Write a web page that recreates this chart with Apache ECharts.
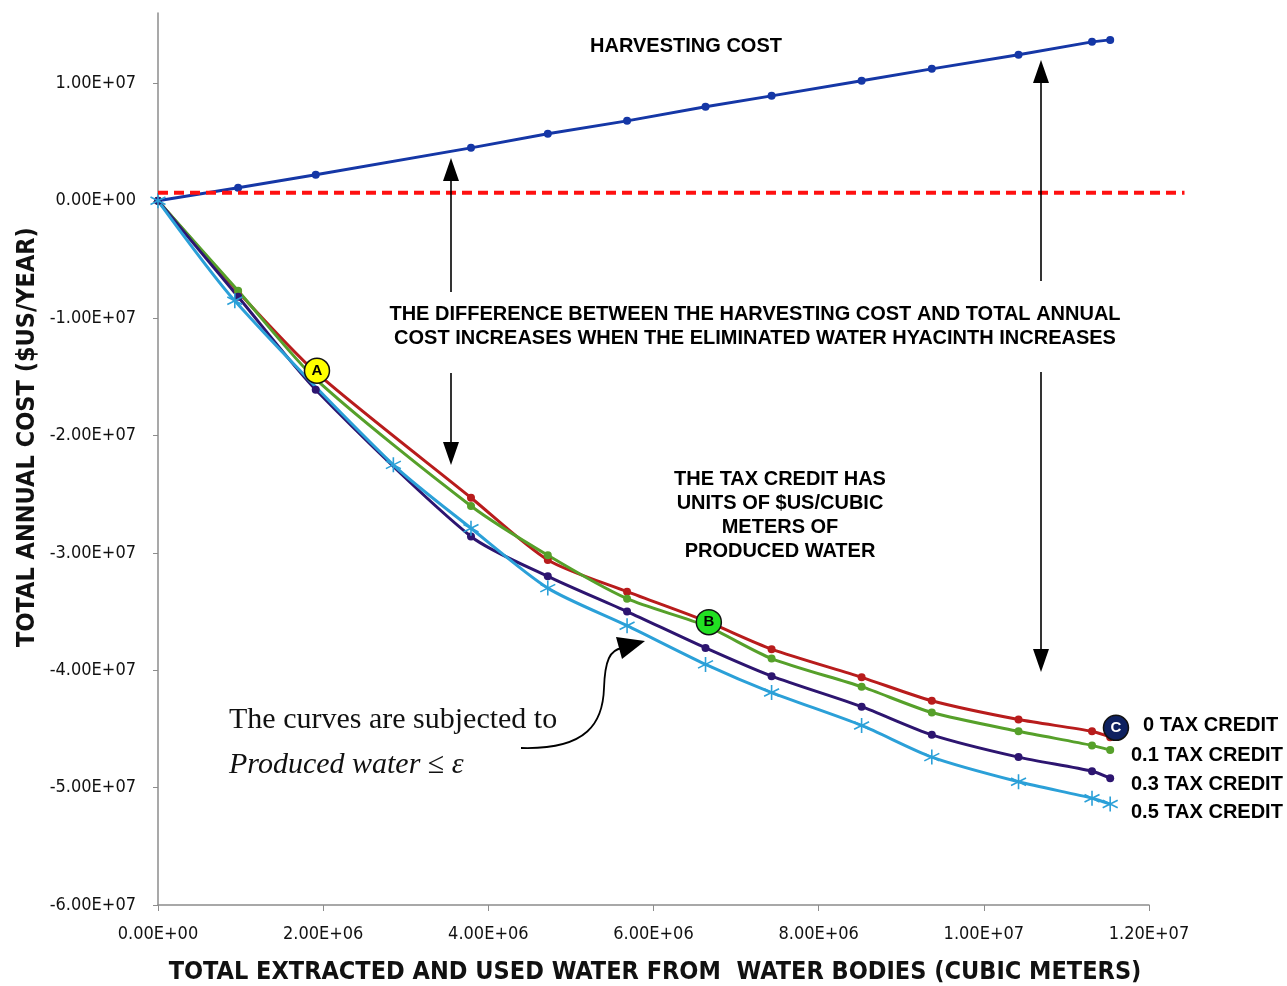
<!DOCTYPE html>
<html>
<head>
<meta charset="utf-8">
<script src="https://cdn.jsdelivr.net/npm/echarts@6/dist/echarts.min.js"></script>
<style>
  html, body { margin: 0; padding: 0; background: #ffffff; }
  #chart { width: 1287px; height: 986px; }
</style>
</head>
<body>
<div id="chart"></div>
<script>
// Extracted water (cubic metres) at each computed point
const waterX = [0, 0.97e6, 1.91e6, 3.79e6, 4.72e6, 5.68e6, 6.63e6, 7.43e6, 8.52e6, 9.37e6, 10.42e6, 11.31e6, 11.53e6];
// 0.5 tax credit run has its own sample points
const waterX05 = [0, 0.93e6, 2.85e6, 3.79e6, 4.72e6, 5.68e6, 6.63e6, 7.43e6, 8.52e6, 9.37e6, 10.42e6, 11.31e6, 11.53e6];

// Annual cost ($US/year)
const harvestingCost = [0, 1.11e6, 2.21e6, 4.51e6, 5.71e6, 6.81e6, 8.01e6, 8.94e6, 1.022e7, 1.124e7, 1.244e7, 1.354e7, 1.371e7];
const taxCredit0  = [0, -7.75e6, -1.46e7, -2.53e7, -3.06e7, -3.33e7, -3.58e7, -3.82e7, -4.06e7, -4.26e7, -4.42e7, -4.52e7, -4.57e7];
const taxCredit01 = [0, -7.67e6, -1.52e7, -2.60e7, -3.02e7, -3.39e7, -3.62e7, -3.90e7, -4.14e7, -4.36e7, -4.52e7, -4.64e7, -4.68e7];
const taxCredit03 = [0, -8.18e6, -1.61e7, -2.86e7, -3.20e7, -3.50e7, -3.81e7, -4.05e7, -4.31e7, -4.55e7, -4.74e7, -4.86e7, -4.92e7];
const taxCredit05 = [0, -8.52e6, -2.25e7, -2.79e7, -3.30e7, -3.62e7, -3.95e7, -4.19e7, -4.47e7, -4.74e7, -4.95e7, -5.09e7, -5.14e7];

// Zero-cost reference level (dashed), running past the last tick
const referenceX = [0, 12.43e6];
const referenceLevel = [6.8e5, 6.8e5];

// Highlighted solutions A, B, C
const pointNames = ['A', 'B', 'C'];
const pointX = [1.925e6, 6.67e6, 11.6e6];
const pointY = [-1.448e7, -3.59e7, -4.49e7];

// Axis ticks
const xTicks = [0, 2e6, 4e6, 6e6, 8e6, 10e6, 12e6];
const yTicks = [-6e7, -5e7, -4e7, -3e7, -2e7, -1e7, 0, 1e7];

const pair = (xs, ys) => xs.map((x, i) => [x, ys[i]]);

function sci(v) {
  if (v === 0) return '0.00E+00';
  const e = Math.floor(Math.log10(Math.abs(v)) + 1e-9);
  const m = v / Math.pow(10, e);
  return m.toFixed(2) + 'E' + (e >= 0 ? '+' : '-') + String(Math.abs(e)).padStart(2, '0');
}

const NARROW = "'Liberation Sans Narrow', 'DejaVu Sans Condensed', 'Liberation Sans', sans-serif";
const BOLD = "'Liberation Sans', Arial, sans-serif";
const SERIF = '"Liberation Serif", "Times New Roman", serif';

const chart = echarts.init(document.getElementById('chart'), null, { renderer: 'canvas' });

function curve(name, ys, xs, color, symbol, size) {
  return {
    name, type: 'line', data: pair(xs, ys), smooth: 0.25,
    symbol, symbolSize: size, showSymbol: true,
    lineStyle: { color, width: 3 },
    itemStyle: { color, borderColor: color, borderWidth: symbol.startsWith('path') ? 1.6 : 0 },
    z: 3
  };
}

const annotationText = (x, y, text) => ({
  type: 'text', x, y, z: 10,
  style: { text, font: 'bold 20px ' + BOLD, fill: '#000', align: 'center', verticalAlign: 'middle' }
});

const seriesName = (x, y, text) => ({
  type: 'text', x, y, z: 10,
  style: { text, font: 'bold 20px ' + BOLD, fill: '#000', verticalAlign: 'middle' }
});

function vArrow(x, y1, y2, up) {
  // shaft from y1 to y2; head at y2
  const dir = up ? 1 : -1;
  return [
    { type: 'line', z: 10, shape: { x1: x, y1: y1, x2: x, y2: y2 + dir * 20 }, style: { stroke: '#000', lineWidth: 1.6 } },
    { type: 'polygon', z: 10, shape: { points: [[x, y2], [x - 8, y2 + dir * 23], [x + 8, y2 + dir * 23]] }, style: { fill: '#000' } }
  ];
}

const option = {
  animation: false,
  backgroundColor: '#ffffff',
  grid: { left: 158, right: 138, top: 13, bottom: 81, containLabel: false },
  xAxis: {
    type: 'value', min: 0, max: 12e6, interval: 2e6,
    axisLine: { show: true, onZero: false, lineStyle: { color: '#8c8c8c', width: 1.5 } },
    axisTick: { show: true, length: 6, lineStyle: { color: '#8c8c8c' } },
    axisLabel: { formatter: sci, fontFamily: NARROW, fontSize: 18, color: '#111', margin: 20 },
    splitLine: { show: false }
  },
  yAxis: {
    type: 'value', min: -6e7, max: 1.6e7, interval: 1e7,
    axisLine: { show: true, onZero: false, lineStyle: { color: '#8c8c8c', width: 1.5 } },
    axisTick: { show: true, length: 5, lineStyle: { color: '#8c8c8c' }, customValues: yTicks },
    axisLabel: {
      fontFamily: NARROW, fontSize: 18, color: '#111', margin: 22, customValues: yTicks,
      formatter: v => (yTicks.indexOf(v) >= 0 ? sci(v) : '')
    },
    splitLine: { show: false }
  },
  series: [
    {
      name: 'HARVESTING COST', type: 'line', data: pair(waterX, harvestingCost),
      symbol: 'circle', symbolSize: 8,
      lineStyle: { color: '#1537a6', width: 3 }, itemStyle: { color: '#1537a6' }, z: 3
    },
    curve('0 TAX CREDIT', taxCredit0, waterX, '#b81c1c', 'circle', 8),
    curve('0.1 TAX CREDIT', taxCredit01, waterX, '#56a02a', 'circle', 8),
    curve('0.3 TAX CREDIT', taxCredit03, waterX, '#2d1570', 'circle', 8),
    curve('0.5 TAX CREDIT', taxCredit05, waterX05, '#2ba0d8', 'path://M10,0L10,20M1.34,5L18.66,15M1.34,15L18.66,5', 15),
    {
      name: 'solutions', type: 'scatter', symbol: 'circle', symbolSize: 25, z: 6,
      data: pointNames.map((n, i) => ({
        name: n, value: [pointX[i], pointY[i]],
        itemStyle: {
          color: ['#ffff00', '#22e022', '#0e2160'][i],
          borderColor: '#111', borderWidth: 1.5, opacity: 1
        },
        label: {
          show: true, position: 'inside', formatter: n,
          color: i === 2 ? '#ffffff' : '#000000',
          fontFamily: BOLD, fontWeight: 'bold', fontSize: 15
        }
      }))
    }
  ],
  graphic: [
    annotationText(686, 46, 'HARVESTING COST'),
    annotationText(755, 314, 'THE DIFFERENCE BETWEEN THE HARVESTING COST AND TOTAL ANNUAL'),
    annotationText(755, 338, 'COST INCREASES WHEN THE ELIMINATED WATER HYACINTH INCREASES'),
    annotationText(780, 479, 'THE TAX CREDIT HAS'),
    annotationText(780, 503, 'UNITS OF $US/CUBIC'),
    annotationText(780, 527, 'METERS OF'),
    annotationText(780, 551, 'PRODUCED WATER'),
    // series names beside line ends
    seriesName(1143, 725, '0 TAX CREDIT'),
    seriesName(1131, 755, '0.1 TAX CREDIT'),
    seriesName(1131, 784, '0.3 TAX CREDIT'),
    seriesName(1131, 812, '0.5 TAX CREDIT'),
    // axis titles
    { type: 'text', x: 655, y: 972, style: { text: 'TOTAL EXTRACTED AND USED WATER FROM  WATER BODIES (CUBIC METERS)', font: 'bold 25px ' + NARROW, fill: '#111', align: 'center', verticalAlign: 'middle' } },
    { type: 'text', x: 27, y: 437, rotation: Math.PI / 2, style: { text: 'TOTAL ANNUAL COST ($US/YEAR)', font: 'bold 25px ' + NARROW, fill: '#111', align: 'center', verticalAlign: 'middle' } },
    // constraint note
    { type: 'text', x: 229, y: 720, style: { text: 'The curves are subjected to', font: '30px ' + SERIF, fill: '#111', verticalAlign: 'middle' } },
    { type: 'text', x: 229, y: 765, style: { text: 'Produced water \u2264 \u03b5', font: 'italic 30px ' + SERIF, fill: '#111', verticalAlign: 'middle' } },
    { type: 'bezierCurve', z: 10, shape: { x1: 521, y1: 748, cpx1: 588, cpy1: 750, cpx2: 603, cpy2: 722, x2: 604, y2: 688 }, style: { fill: null, stroke: '#000', lineWidth: 1.8 } },
    { type: 'bezierCurve', z: 10, shape: { x1: 604, y1: 688, cpx1: 605, cpy1: 660, cpx2: 610, cpy2: 650, x2: 622, y2: 648 }, style: { fill: null, stroke: '#000', lineWidth: 1.8 } },
    { type: 'polygon', z: 10, shape: { points: [[645, 641], [616, 637], [622, 659]] }, style: { fill: '#000' } }
  ].concat(
    vArrow(451, 292, 158, true),
    vArrow(451, 373, 465, false),
    vArrow(1041, 281, 60, true),
    vArrow(1041, 372, 672, false)
  )
};

chart.setOption(option);

// The dashed reference level runs past the plot's right edge, so it is drawn
// as a free line positioned through the axis scales.
const refPts = pair(referenceX, referenceLevel).map(p => chart.convertToPixel({ gridIndex: 0 }, p));
chart.setOption({
  graphic: option.graphic.concat([{
    type: 'line', z: 5,
    shape: { x1: refPts[0][0], y1: refPts[0][1], x2: refPts[1][0], y2: refPts[1][1] },
    style: { stroke: '#ff1010', lineWidth: 4, lineDash: [10, 6] }
  }])
}, { replaceMerge: ['graphic'] });
</script>
</body>
</html>
